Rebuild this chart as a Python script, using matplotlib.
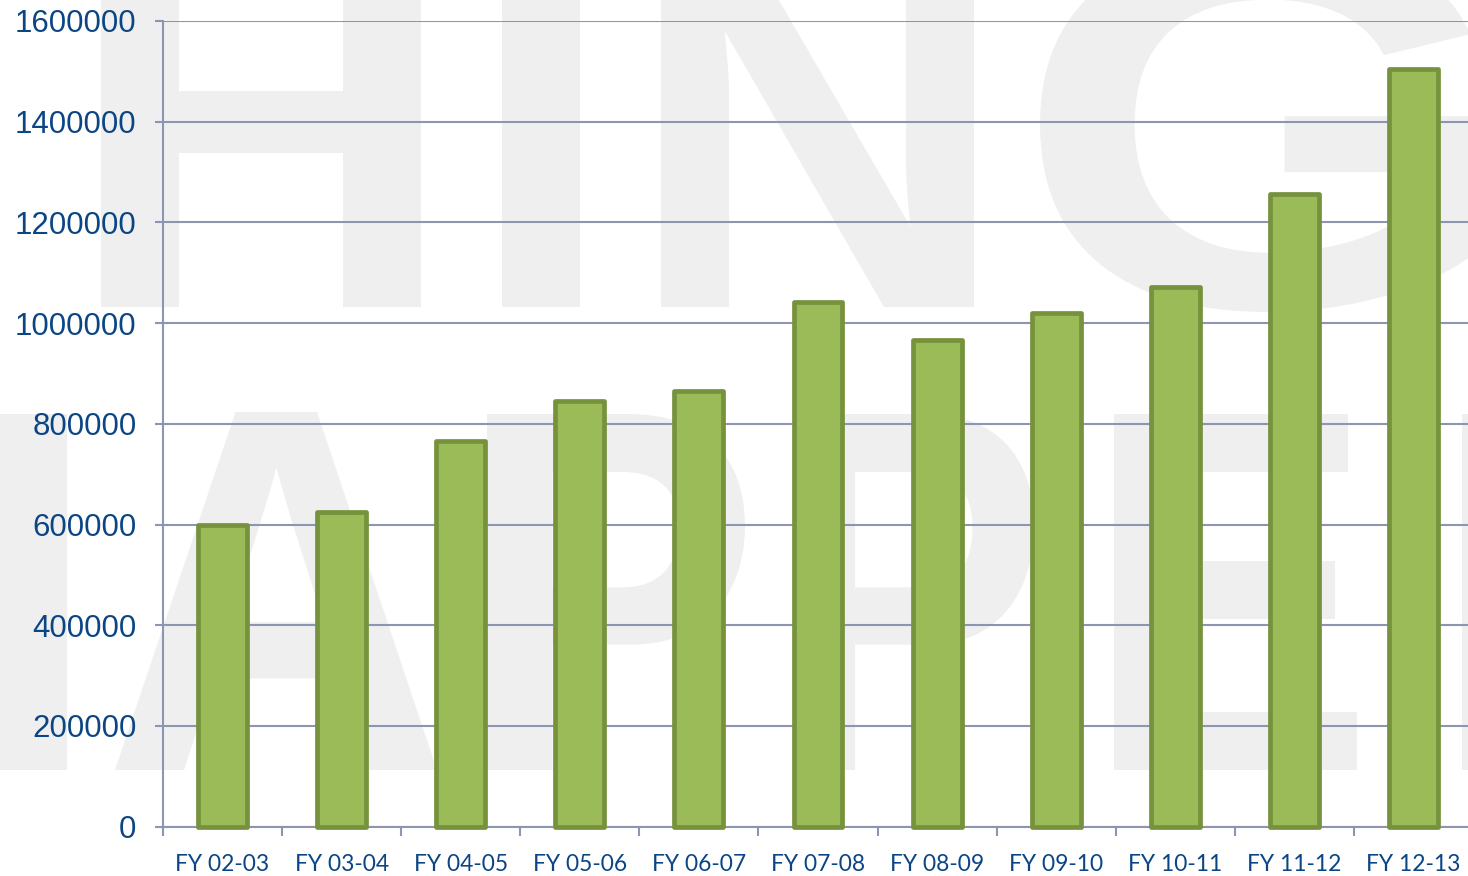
import matplotlib
matplotlib.use("Agg")
import matplotlib.pyplot as plt
import numpy as np
from matplotlib.textpath import TextPath
from matplotlib.font_manager import FontProperties
from matplotlib.patches import PathPatch
from matplotlib.transforms import Affine2D, IdentityTransform

# datos: ventas por año fiscal
years = ["FY 02-03", "FY 03-04", "FY 04-05", "FY 05-06", "FY 06-07", "FY 07-08",
         "FY 08-09", "FY 09-10", "FY 10-11", "FY 11-12", "FY 12-13"]
values = [600000, 625000, 766000, 845000, 865000, 1042000,
          966000, 1021000, 1071000, 1256000, 1505000]
yticks = [0, 200000, 400000, 600000, 800000, 1000000, 1200000, 1400000, 1600000]

W, H = 1468, 876
fig = plt.figure(figsize=(W / 100, H / 100), dpi=100)
fig.patch.set_facecolor("white")

# marca de agua en gris claro, letra por letra (cajas en pixeles, y desde arriba)
wm_font = FontProperties(family="Liberation Sans", weight="bold")
wm_letters = [
    ("H", 101, 421, -52, 307), ("I", 502, 580, -52, 307),
    ("N", 661, 974, -52, 307), ("G", 1040, 1480, -60, 312),
    ("M", -330, 67, 414, 770), ("A", 115, 437, 412, 770),
    ("P", 487, 745, 414, 770), ("P", 794, 1034, 414, 770),
    ("E", 1114, 1357, 414, 770), ("R", 1462, 1720, 414, 770),
]
for ch, x0, x1, y0, y1 in wm_letters:
    tp = TextPath((0, 0), ch, size=100, prop=wm_font)
    ext = tp.get_extents()
    tr = (Affine2D().translate(-ext.x0, -ext.y0)
          .scale((x1 - x0) / ext.width, (y1 - y0) / ext.height)
          .translate(x0, H - y1))
    fig.add_artist(PathPatch(tr.transform_path(tp), transform=IdentityTransform(),
                             facecolor="#EFEFEF", edgecolor="none", zorder=-1))

ax = fig.add_axes([163 / W, (H - 826.7) / H, (1473 - 163) / W, (826.7 - 21) / H])
ax.set_facecolor("none")

grid_c = "#8C96B0"
text_c = "#0B4584"

x = np.arange(len(years))
ax.bar(x, values, width=0.41, color="#9BBB59", edgecolor="#76923C",
       linewidth=3.4, joinstyle="round", zorder=3, clip_on=False)

ax.set_xlim(-0.5, len(years) - 0.5)
ax.set_ylim(0, 1600000)

ax.set_yticks(yticks)
ax.set_yticklabels([str(v) for v in yticks], fontsize=22.5,
                   family="Liberation Sans", color=text_c)
ax.yaxis.grid(True, color=grid_c, linewidth=1.5)
ax.set_axisbelow(True)

ax.set_xticks(x)
ax.set_xticklabels(years, fontsize=16.4, family="Lato", color=text_c)
ax.set_xticks(np.arange(len(years) + 1) - 0.5, minor=True)
ax.tick_params(axis="x", which="major", length=0, pad=20)
ax.tick_params(axis="x", which="minor", length=6.5, width=1.5, color=grid_c)
ax.tick_params(axis="y", length=6, width=1.5, color=grid_c, pad=13)

for s in ["top", "right"]:
    ax.spines[s].set_visible(False)
for s in ["left", "bottom"]:
    ax.spines[s].set_color(grid_c)
    ax.spines[s].set_linewidth(1.5)
ax.spines["left"].set_bounds(0, 1600000)

fig.savefig("out.png", dpi=100)
